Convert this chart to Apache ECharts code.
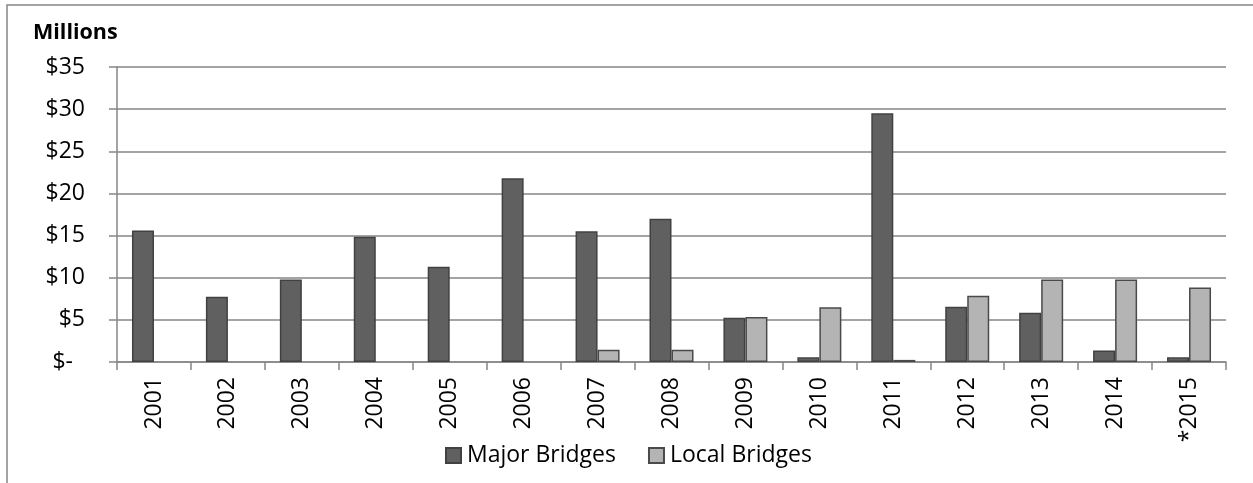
<!DOCTYPE html>
<html>
<head>
<meta charset="utf-8">
<script src="https://cdn.jsdelivr.net/npm/echarts@6/dist/echarts.min.js"></script>
<style>
html,body{margin:0;padding:0;background:#fff;}
#chart{width:1253px;height:483px;}
</style>
</head>
<body>
<div id="chart"></div>
<script>
var years = ['2001','2002','2003','2004','2005','2006','2007','2008','2009','2010','2011','2012','2013','2014','*2015'];
var majorBridges = [15.6, 7.75, 9.8, 14.85, 11.3, 21.8, 15.5, 17.0, 5.25, 0.55, 29.5, 6.55, 5.85, 1.35, 0.55];
var localBridges = [null, null, null, null, null, null, 1.45, 1.45, 5.35, 6.5, 0.25, 7.85, 9.8, 9.8, 8.85];
var yTicks = { min: 0, max: 35, interval: 5 };

var FONT = '"Open Sans", "Liberation Sans", sans-serif';
var FS = 23;
var chart = echarts.init(document.getElementById('chart'));
chart.setOption({
  animation: false,
  backgroundColor: '#fff',
  graphic: [
    { type: 'rect', shape: { x: 7, y: 5, width: 1300, height: 520 },
      style: { fill: 'none', stroke: '#868686', lineWidth: 1.5 }, silent: true },
    { type: 'text', left: 33, top: 22,
      style: { text: 'Millions', font: 'bold 21.5px ' + FONT, fill: '#000' } }
  ],
  grid: { left: 117, right: 27, top: 67, bottom: 121, containLabel: false },
  legend: {
    left: 440, top: 439,
    itemWidth: 15, itemHeight: 15, itemGap: 32,
    icon: 'rect',
    textStyle: { fontFamily: FONT, fontSize: FS, color: '#000', padding: [0, 0, 0, 1] },
    data: ['Major Bridges', 'Local Bridges']
  },
  xAxis: {
    type: 'category',
    data: years,
    boundaryGap: true,
    axisLine: { lineStyle: { color: '#868686', width: 1.5 } },
    axisTick: { show: true, length: 8, lineStyle: { color: '#868686', width: 1.5 } },
    axisLabel: { rotate: 90, margin: 15, fontFamily: FONT, fontSize: FS, color: '#000', interval: 0 }
  },
  yAxis: {
    type: 'value',
    min: yTicks.min, max: yTicks.max, interval: yTicks.interval,
    axisLine: { show: true, lineStyle: { color: '#868686', width: 1.5 } },
    axisTick: { show: true, length: 8, lineStyle: { color: '#868686', width: 1.5 } },
    splitLine: { show: true, lineStyle: { color: '#868686', width: 1.5 } },
    axisLabel: {
      margin: 32, fontFamily: FONT, fontSize: FS, color: '#000',
      formatter: function (v) { return v === 0 ? '{z|$-}' : '$' + v; },
      rich: { z: { fontFamily: FONT, fontSize: FS, color: '#000', padding: [0, 12, 0, 0] } }
    }
  },
  series: [
    {
      name: 'Major Bridges', type: 'bar', data: majorBridges,
      barWidth: 22, barGap: '0%',
      itemStyle: { color: '#606060', borderColor: '#414141', borderWidth: 1.5 }
    },
    {
      name: 'Local Bridges', type: 'bar', data: localBridges,
      barWidth: 22,
      itemStyle: { color: '#b4b4b4', borderColor: '#4a4a4a', borderWidth: 1.5 }
    }
  ]
});
</script>
</body>
</html>
